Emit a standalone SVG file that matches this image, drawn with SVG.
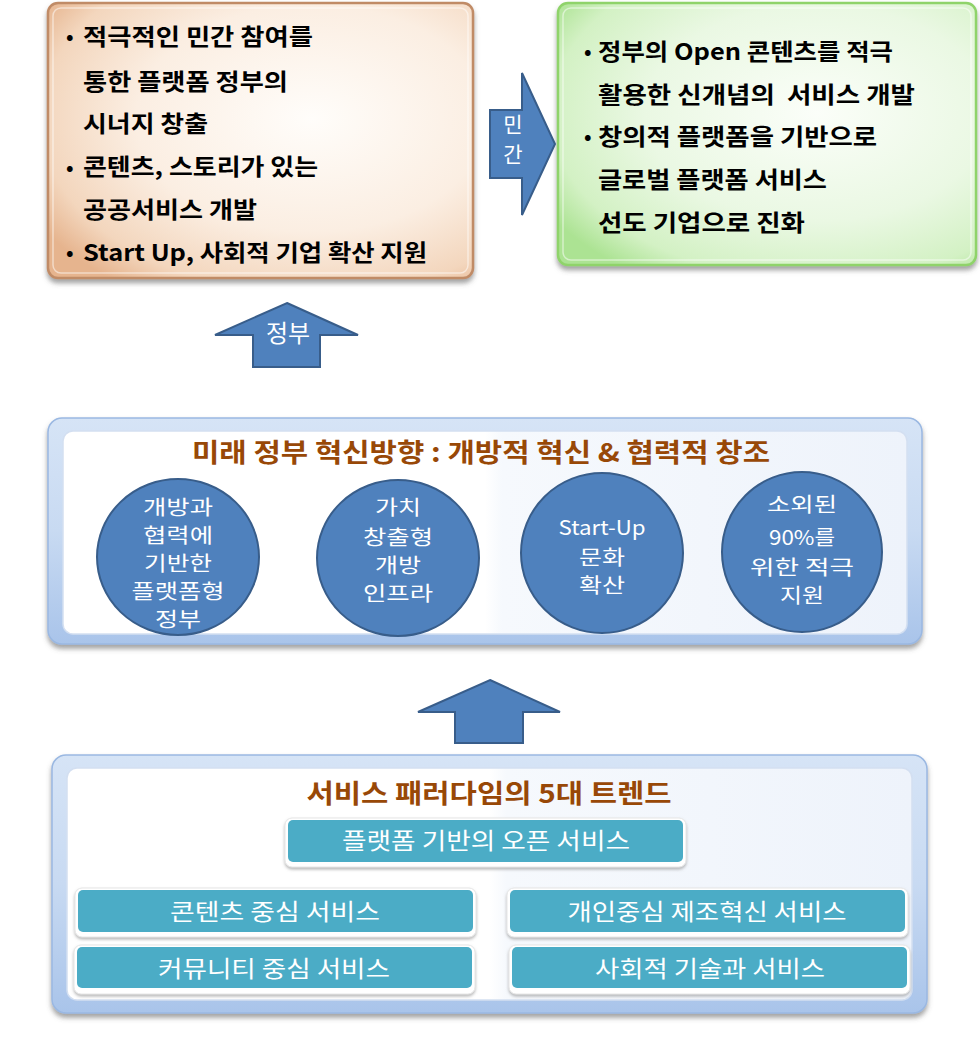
<svg xmlns="http://www.w3.org/2000/svg" width="980" height="1044" viewBox="0 0 980 1044">
<defs>
<style>
.kb{font-family:"Noto Sans CJK KR","Noto Sans",sans-serif;font-weight:700;font-size:23px;fill:#000}
.bul{font-family:"Noto Sans CJK KR","Noto Sans",sans-serif;font-weight:700;font-size:20px;fill:#000}
.ttl{font-family:"Noto Sans CJK KR","Noto Sans",sans-serif;font-weight:700;font-size:26px;fill:#984807;text-anchor:middle}
.ct{font-family:"Noto Sans CJK KR","Noto Sans",sans-serif;font-size:20px;fill:#fff;text-anchor:middle}
.bt{font-family:"Noto Sans CJK KR","Noto Sans",sans-serif;font-size:23px;fill:#fff;text-anchor:middle}
.at{font-family:"Noto Sans CJK KR","Noto Sans",sans-serif;font-size:21px;fill:#fff;text-anchor:middle}
.circ{fill:#4f81bd;stroke:#385d8a;stroke-width:2}
.arr{fill:#4f81bd;stroke:#385d8a;stroke-width:2;stroke-linejoin:miter}
.tbox{fill:#4bacc6}
.tframe{fill:#fff;stroke:#e6e6e6;stroke-width:1}
.outer{fill:url(#gOuter);stroke:#9ab8e2;stroke-width:1.5}
.inner{fill:url(#gInner);stroke:#d3dff1;stroke-width:1.5}
</style>
<radialGradient id="gPeach" cx="0.62" cy="0.42" r="0.75">
<stop offset="0" stop-color="#fffdfa"/>
<stop offset="0.55" stop-color="#fbeee2"/>
<stop offset="0.85" stop-color="#f3d6bd"/>
<stop offset="1" stop-color="#e6b48e"/>
</radialGradient>
<radialGradient id="gGreen" cx="0.62" cy="0.42" r="0.75">
<stop offset="0" stop-color="#fbfef9"/>
<stop offset="0.55" stop-color="#eaf8e3"/>
<stop offset="0.85" stop-color="#d3f1c4"/>
<stop offset="1" stop-color="#ace393"/>
</radialGradient>
<linearGradient id="gOuter" x1="0" y1="0" x2="0" y2="1">
<stop offset="0" stop-color="#d6e4f6"/>
<stop offset="0.5" stop-color="#c8daf2"/>
<stop offset="1" stop-color="#a9c4ea"/>
</linearGradient>
<linearGradient id="gInner" x1="0" y1="0" x2="1" y2="0">
<stop offset="0" stop-color="#ffffff"/>
<stop offset="0.5" stop-color="#ffffff"/>
<stop offset="0.52" stop-color="#f6f9fd"/>
<stop offset="1" stop-color="#eef3fb"/>
</linearGradient>
<filter id="sh" x="-5%" y="-5%" width="110%" height="115%">
<feDropShadow dx="0" dy="4" stdDeviation="2.5" flood-color="#555" flood-opacity="0.55"/>
</filter>
<filter id="sh2" x="-5%" y="-10%" width="110%" height="130%">
<feDropShadow dx="0" dy="2" stdDeviation="1.5" flood-color="#888" flood-opacity="0.6"/>
</filter>
</defs>
<rect width="980" height="1044" fill="#fff"/>

<g id="box-left">
<rect x="48" y="3" width="425" height="275" rx="10" fill="url(#gPeach)" stroke="#c08b66" stroke-width="2.5" filter="url(#sh)"/>
<rect x="53" y="8" width="415" height="265" rx="8" fill="none" stroke="#fff" stroke-opacity="0.5" stroke-width="1.5"/>
<text class="bul" x="66" y="44">•</text>
<text class="kb" x="83" y="45" textLength="230" lengthAdjust="spacingAndGlyphs">적극적인 민간 참여를</text>
<text class="kb" x="83" y="90" textLength="205" lengthAdjust="spacingAndGlyphs">통한 플랫폼 정부의</text>
<text class="kb" x="83" y="132" textLength="125" lengthAdjust="spacingAndGlyphs">시너지 창출</text>
<text class="bul" x="66" y="175">•</text>
<text class="kb" x="83" y="175" textLength="235" lengthAdjust="spacingAndGlyphs">콘텐츠, 스토리가 있는</text>
<text class="kb" x="83" y="218" textLength="174" lengthAdjust="spacingAndGlyphs">공공서비스 개발</text>
<text class="bul" x="66" y="260">•</text>
<text class="kb" x="83" y="261" textLength="344" lengthAdjust="spacingAndGlyphs">Start Up, 사회적 기업 확산 지원</text>
</g>

<g id="box-right">
<rect x="558" y="3" width="418" height="262" rx="10" fill="url(#gGreen)" stroke="#8fd36b" stroke-width="2.5" filter="url(#sh)"/>
<rect x="563" y="8" width="408" height="252" rx="8" fill="none" stroke="#fff" stroke-opacity="0.5" stroke-width="1.5"/>
<text class="bul" x="584" y="59">•</text>
<text class="kb" x="598" y="60" textLength="295" lengthAdjust="spacingAndGlyphs">정부의 Open 콘텐츠를 적극</text>
<text class="kb" x="598" y="103" textLength="317" lengthAdjust="spacingAndGlyphs" style="white-space:pre">활용한 신개념의  서비스 개발</text>
<text class="bul" x="584" y="144">•</text>
<text class="kb" x="598" y="145" textLength="279" lengthAdjust="spacingAndGlyphs">창의적 플랫폼을 기반으로</text>
<text class="kb" x="598" y="188" textLength="229" lengthAdjust="spacingAndGlyphs">글로벌 플랫폼 서비스</text>
<text class="kb" x="598" y="231" textLength="207" lengthAdjust="spacingAndGlyphs">선도 기업으로 진화</text>
</g>

<g id="panel-middle">
<rect class="outer" x="48" y="418" width="874" height="226" rx="14" filter="url(#sh)"/>
<rect class="inner" x="63" y="431" width="844" height="203" rx="10"/>
<text class="ttl" x="481" y="462" textLength="578" lengthAdjust="spacingAndGlyphs">미래 정부 혁신방향 : 개방적 혁신 &amp; 협력적 창조</text>
</g>

<g id="circle-1">
<ellipse class="circ" cx="178" cy="557" rx="81" ry="78"/>
<text class="ct" x="178" y="515" textLength="70" lengthAdjust="spacingAndGlyphs">개방과</text>
<text class="ct" x="178" y="543" textLength="70" lengthAdjust="spacingAndGlyphs">협력에</text>
<text class="ct" x="178" y="571" textLength="68" lengthAdjust="spacingAndGlyphs">기반한</text>
<text class="ct" x="178" y="599" textLength="93" lengthAdjust="spacingAndGlyphs">플랫폼형</text>
<text class="ct" x="178" y="627" textLength="46" lengthAdjust="spacingAndGlyphs">정부</text>
</g>
<g id="circle-2">
<ellipse class="circ" cx="398" cy="558" rx="81" ry="78"/>
<text class="ct" x="398" y="515" textLength="46" lengthAdjust="spacingAndGlyphs">가치</text>
<text class="ct" x="398" y="545" textLength="70" lengthAdjust="spacingAndGlyphs">창출형</text>
<text class="ct" x="398" y="573" textLength="46" lengthAdjust="spacingAndGlyphs">개방</text>
<text class="ct" x="398" y="601" textLength="70" lengthAdjust="spacingAndGlyphs">인프라</text>
</g>
<g id="circle-3">
<ellipse class="circ" cx="602" cy="553" rx="81" ry="80"/>
<text class="ct" x="602" y="535" textLength="87" lengthAdjust="spacingAndGlyphs">Start-Up</text>
<text class="ct" x="602" y="565" textLength="46" lengthAdjust="spacingAndGlyphs">문화</text>
<text class="ct" x="602" y="593" textLength="46" lengthAdjust="spacingAndGlyphs">확산</text>
</g>
<g id="circle-4">
<ellipse class="circ" cx="802" cy="552" rx="80" ry="80"/>
<text class="ct" x="802" y="512" textLength="70" lengthAdjust="spacingAndGlyphs">소외된</text>
<text class="ct" x="802" y="545" textLength="66" lengthAdjust="spacingAndGlyphs">90%를</text>
<text class="ct" x="802" y="575" textLength="104" lengthAdjust="spacingAndGlyphs">위한 적극</text>
<text class="ct" x="802" y="603" textLength="44" lengthAdjust="spacingAndGlyphs">지원</text>
</g>

<g id="panel-bottom">
<rect class="outer" x="52" y="755" width="875" height="258" rx="14" filter="url(#sh)"/>
<rect class="inner" x="67" y="768" width="845" height="232" rx="10"/>
<text class="ttl" x="489" y="803" textLength="365" lengthAdjust="spacingAndGlyphs">서비스 패러다임의 5대 트렌드</text>
</g>

<g id="trend-1">
<rect class="tframe" x="285" y="818" width="401" height="49" rx="7" filter="url(#sh2)"/>
<rect class="tbox" x="288" y="820" width="395" height="42" rx="5"/>
<text class="bt" x="486" y="849" textLength="288" lengthAdjust="spacingAndGlyphs">플랫폼 기반의 오픈 서비스</text>
</g>
<g id="trend-2">
<rect class="tframe" x="75" y="888" width="401" height="49" rx="7" filter="url(#sh2)"/>
<rect class="tbox" x="78" y="890" width="395" height="42" rx="5"/>
<text class="bt" x="275" y="920" textLength="210" lengthAdjust="spacingAndGlyphs">콘텐츠 중심 서비스</text>
</g>
<g id="trend-3">
<rect class="tframe" x="507" y="888" width="401" height="49" rx="7" filter="url(#sh2)"/>
<rect class="tbox" x="510" y="890" width="395" height="42" rx="5"/>
<text class="bt" x="707" y="920" textLength="279" lengthAdjust="spacingAndGlyphs">개인중심 제조혁신 서비스</text>
</g>
<g id="trend-4">
<rect class="tframe" x="74" y="945" width="401" height="49" rx="7" filter="url(#sh2)"/>
<rect class="tbox" x="77" y="947" width="395" height="41" rx="5"/>
<text class="bt" x="274" y="977" textLength="232" lengthAdjust="spacingAndGlyphs">커뮤니티 중심 서비스</text>
</g>
<g id="trend-5">
<rect class="tframe" x="509" y="945" width="401" height="49" rx="7" filter="url(#sh2)"/>
<rect class="tbox" x="512" y="947" width="395" height="41" rx="5"/>
<text class="bt" x="710" y="977" textLength="230" lengthAdjust="spacingAndGlyphs">사회적 기술과 서비스</text>
</g>

<g id="connectors">
<polygon class="arr" points="490,110 522,110 522,73 555,144 522,215 522,178 490,178"/>
<text class="at" x="513" y="132">민</text>
<text class="at" x="513" y="162">간</text>
<polygon class="arr" points="287,303 358,335 320,335 320,367 253,367 253,335 215,335"/>
<text class="at" x="288" y="342" style="font-size:24px">정부</text>
<polygon class="arr" points="490,680 560,712 523,712 523,743 455,743 455,712 418,712"/>
</g>
</svg>
